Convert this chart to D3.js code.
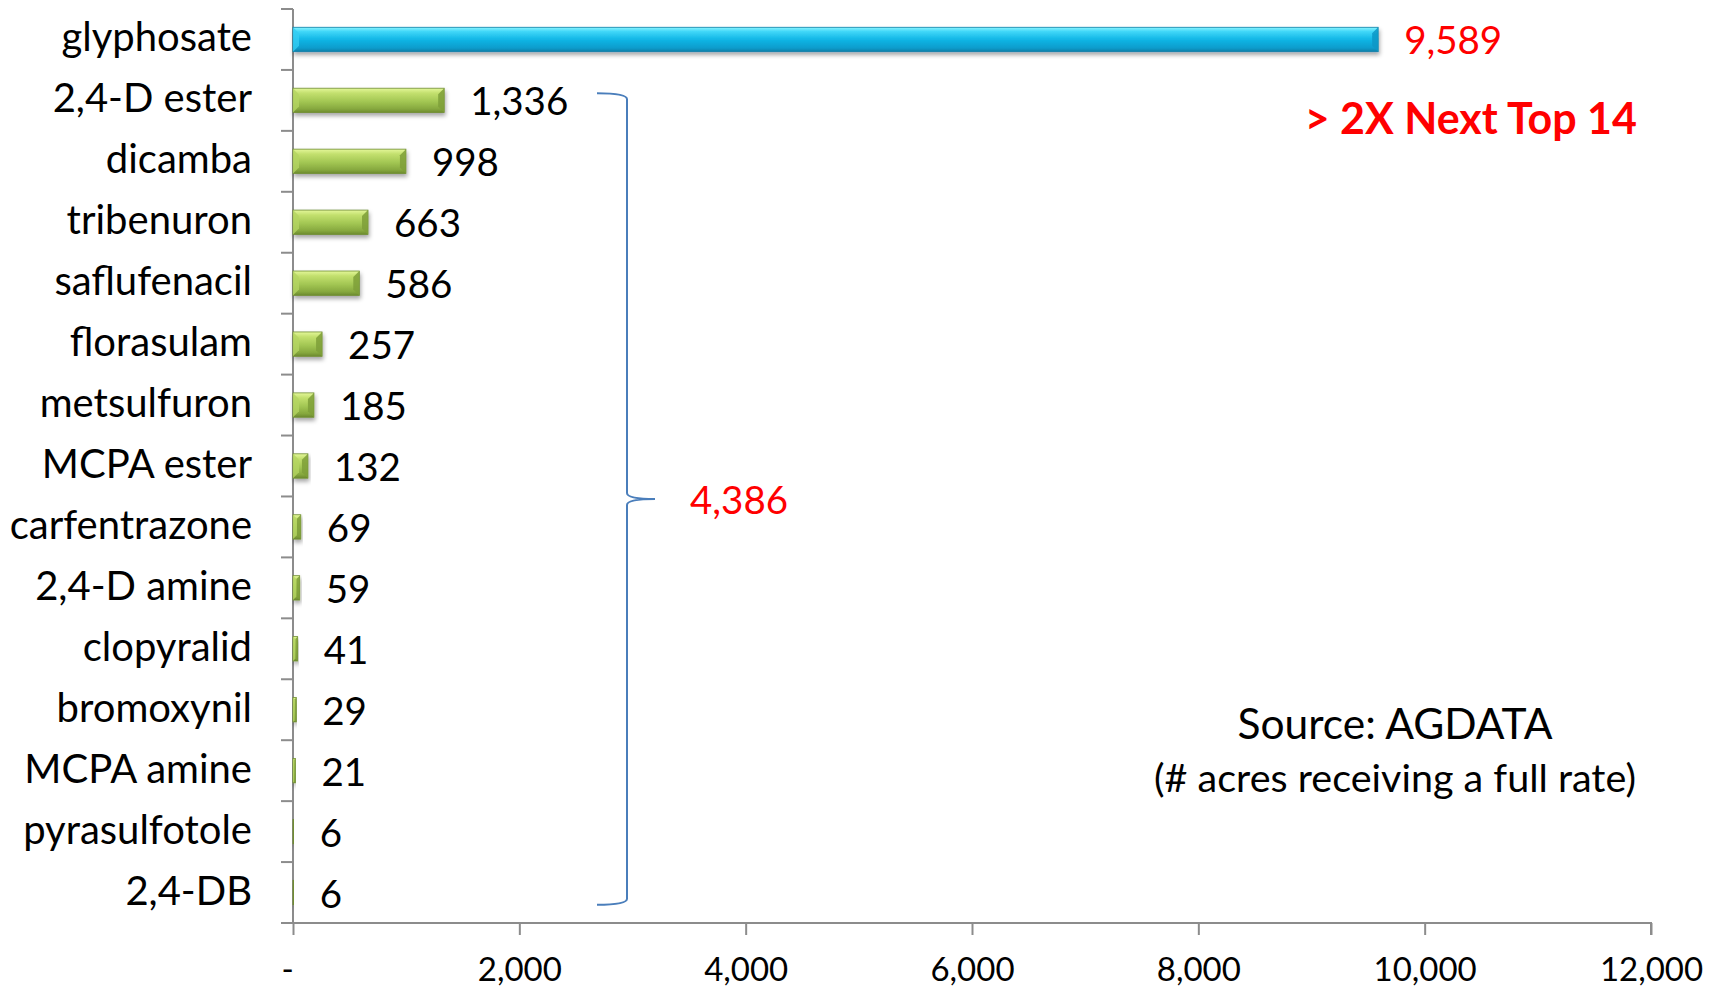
<!DOCTYPE html>
<html>
<head>
<meta charset="utf-8">
<script src="https://cdn.jsdelivr.net/npm/d3@7"></script>
<style>
  html, body { margin: 0; padding: 0; background: #fff; }
  svg text { font-family: Lato, "Open Sans", sans-serif; }
</style>
</head>
<body>
<svg id="chart" width="1719" height="989"></svg>
<script>
// Herbicide active ingredients, thousands of acres receiving a full rate
const herbicides = ["glyphosate", "2,4-D ester", "dicamba", "tribenuron", "saflufenacil",
  "florasulam", "metsulfuron", "MCPA ester", "carfentrazone", "2,4-D amine",
  "clopyralid", "bromoxynil", "MCPA amine", "pyrasulfotole", "2,4-DB"];
const acres = [9589, 1336, 998, 663, 586, 257, 185, 132, 69, 59, 41, 29, 21, 6, 6];
const xTicks = [0, 2000, 4000, 6000, 8000, 10000, 12000];
const othersTotal = 4386;
const headline = "> 2X Next Top 14";
const sourceLines = ["Source: AGDATA", "(# acres receiving a full rate)"];

const svg = d3.select("#chart");
const plotLeft = 293, plotRight = 1651, plotTop = 9, plotBottom = 923;

const x = d3.scaleLinear().domain([0, 12000]).range([plotLeft, plotRight]);
const y = d3.scaleBand().domain(herbicides).range([plotTop, plotBottom]).paddingInner(0.6).paddingOuter(0.3);

const fmt = d3.format(",");
const defs = svg.append("defs");

// vertical shading for the two bar styles
function shade(id, stops) {
  const g = defs.append("linearGradient").attr("id", id)
    .attr("x1", 0).attr("y1", 0).attr("x2", 0).attr("y2", 1);
  stops.forEach(s => g.append("stop").attr("offset", s[0]).attr("stop-color", s[1]));
}
shade("blueFill", [[0, "#8af4ff"], [0.18, "#3fd6f8"], [0.5, "#12b6e6"], [0.85, "#0b9ccc"], [1, "#0a7fa8"]]);
shade("greenFill", [[0, "#e4f79a"], [0.2, "#c3e06e"], [0.55, "#a2c653"], [0.85, "#86a83e"], [1, "#6c8a2e"]]);

const shadow = defs.append("filter").attr("id", "barShadow")
  .attr("x", "-10%").attr("y", "-30%").attr("width", "130%").attr("height", "200%");
shadow.append("feDropShadow").attr("dx", 1).attr("dy", 3).attr("stdDeviation", 2.2)
  .attr("flood-color", "#000").attr("flood-opacity", 0.35);

// axes
const axisColor = "#8c8c8c";
svg.append("line").attr("x1", plotLeft).attr("x2", plotLeft).attr("y1", plotTop).attr("y2", plotBottom)
  .attr("stroke", axisColor).attr("stroke-width", 2);
// category boundary ticks
const bounds = d3.range(herbicides.length + 1).map(i => plotTop + i * y.step());
svg.append("g").selectAll("line").data(bounds).join("line")
  .attr("x1", plotLeft - 12).attr("x2", plotLeft).attr("y1", d => d).attr("y2", d => d)
  .attr("stroke", axisColor).attr("stroke-width", 2);

const xAxis = d3.axisBottom(x).tickValues(xTicks).tickSize(12)
  .tickFormat(d => d === 0 ? "-" : fmt(d));
const xG = svg.append("g").attr("transform", `translate(0,${plotBottom})`).call(xAxis);
xG.select(".domain").attr("stroke", axisColor).attr("stroke-width", 2)
  .attr("d", `M${plotLeft - 12},0H${plotRight}V12`);
xG.selectAll(".tick line").attr("stroke", axisColor).attr("stroke-width", 2);
xG.selectAll(".tick text").attr("fill", "#000").attr("font-size", 33).attr("dy", null).attr("y", 58)
  .style("font-family", "Lato, sans-serif");
xG.selectAll(".tick").filter(d => d === 0).select("text").attr("x", -6);

// category labels
svg.append("g").selectAll("text").data(herbicides).join("text")
  .attr("x", 252).attr("y", d => y(d) + y.bandwidth() / 2 - 3)
  .attr("text-anchor", "end").attr("dominant-baseline", "central")
  .attr("font-size", 40).attr("fill", "#000").text(d => d);

// beveled bars
const bars = svg.append("g").selectAll("g").data(herbicides).join("g")
  .attr("filter", "url(#barShadow)");
bars.each(function (d, i) {
  const g = d3.select(this);
  const x0 = x(0), x1 = x(acres[i]), y0 = y(d), h = y.bandwidth(), y1 = y0 + h;
  const w = x1 - x0;
  const blue = i === 0;
  g.append("rect").attr("x", x0).attr("y", y0).attr("width", w).attr("height", h)
    .attr("fill", blue ? "url(#blueFill)" : "url(#greenFill)")
    .attr("stroke", blue ? "#0a7fa8" : "#6f8d33").attr("stroke-width", 0.8);
  const b = Math.min(6, w / 2);
  if (w > 2) {
    // end caps of the bevel
    g.append("path").attr("d", `M${x1},${y0}L${x1 - b},${y0 + b}L${x1 - b},${y1 - b}L${x1},${y1}Z`)
      .attr("fill", blue ? "#0c97c6" : "#7e9f38").attr("opacity", 0.85);
    g.append("path").attr("d", `M${x0},${y0}L${x0 + b},${y0 + b}L${x0 + b},${y1 - b}L${x0},${y1}Z`)
      .attr("fill", blue ? "#35cdf2" : "#b4d462").attr("opacity", 0.8);
  }
});

// value labels
svg.append("g").selectAll("text").data(herbicides).join("text")
  .attr("x", (d, i) => x(acres[i]) + 26)
  .attr("y", d => y(d) + y.bandwidth() / 2)
  .attr("dominant-baseline", "central")
  .attr("font-size", 38.5).attr("fill", (d, i) => i === 0 ? "#ff0000" : "#000")
  .text((d, i) => fmt(acres[i]));

// brace grouping the next fourteen
const bTop = y(herbicides[1]) + 5, bBot = y(herbicides[14]) + y.bandwidth();
const bx = 627, bl = 597, tip = 655, mid = (bTop + bBot) / 2;
svg.append("path")
  .attr("d", `M${bl},${bTop}Q${bx},${bTop} ${bx},${bTop + 6}V${mid - 6}Q${bx},${mid} ${tip},${mid}` +
    `Q${bx},${mid} ${bx},${mid + 6}V${bBot - 6}Q${bx},${bBot} ${bl},${bBot}`)
  .attr("fill", "none").attr("stroke", "#4a7ebb").attr("stroke-width", 2);

svg.append("text").attr("x", 690).attr("y", mid).attr("dominant-baseline", "central")
  .attr("font-size", 38.5).attr("fill", "#ff0000").text(fmt(othersTotal));

svg.append("text").attr("x", 1637).attr("y", 117).attr("dominant-baseline", "central")
  .attr("text-anchor", "end").attr("font-size", 43).attr("font-weight", "bold")
  .attr("fill", "#ff0000").text(headline);

svg.append("g").selectAll("text").data(sourceLines).join("text")
  .attr("x", 1395).attr("y", (d, i) => i === 0 ? 722 : 776)
  .attr("text-anchor", "middle").attr("dominant-baseline", "central")
  .attr("font-size", (d, i) => i === 0 ? 42.5 : 39.5).attr("fill", "#000").text(d => d);
</script>
</body>
</html>
